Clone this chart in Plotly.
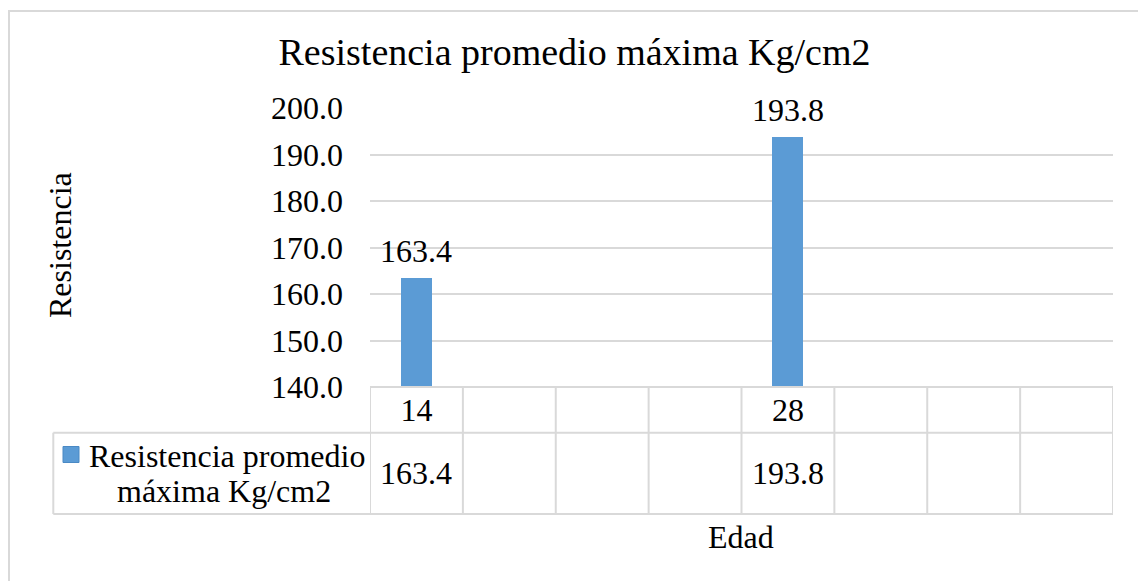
import plotly.graph_objects as go

# ---- data ----
categories = ["14", "", "", "", "28", "", "", ""]
resistencia = [163.4, None, None, None, 193.8, None, None, None]
series_name_lines = ["Resistencia promedio", "máxima Kg/cm2"]
title_text = "Resistencia promedio máxima Kg/cm2"
y_title = "Resistencia"
x_title = "Edad"
y_range = [140, 200]
y_dtick = 10

# ---- layout geometry (pixels) ----
W, H = 1138, 581
L, R, T, B = 370, 25, 108, 194
PW = W - L - R
PH = H - T - B


def px(xp):
    return (xp - L) / PW


def py(yp):
    return (H - B - yp) / PH


FONT = "Liberation Serif"
BLUE = "#5b9bd5"
GRID = "#d9d9d9"
TXT = "#000000"

idx = list(range(len(categories)))

fig = go.Figure()
fig.add_trace(go.Bar(
    x=idx, y=resistencia, width=0.333,
    marker=dict(color=BLUE, line=dict(width=0)),
    showlegend=False, hoverinfo="skip",
))

annotations = []
shapes = []

# data labels above bars
for i, v in zip(idx, resistencia):
    if v is None:
        continue
    annotations.append(dict(
        x=i, y=v, xref="x", yref="y", text=f"{v:.1f}", showarrow=False,
        yanchor="middle", xanchor="center", yshift=27,
        font=dict(family=FONT, size=32, color=TXT),
    ))

# data table geometry
row_top, row_mid, row_bot = 387, 432.7, 514
tbl_left = 53.3
n = len(categories)

# horizontal lines
shapes.append(dict(type="line", xref="x", yref="paper", x0=-0.5, x1=n - 0.5,
                   y0=py(row_top), y1=py(row_top), line=dict(color=GRID, width=2)))
for yy in (row_mid, row_bot):
    shapes.append(dict(type="line", xref="paper", yref="paper", x0=px(tbl_left), x1=1,
                       y0=py(yy), y1=py(yy), line=dict(color=GRID, width=2)))
# vertical lines
for k in range(n + 1):
    xb = k - 0.5
    shapes.append(dict(type="line", xref="x", yref="paper", x0=xb, x1=xb,
                       y0=py(row_top), y1=py(row_bot), line=dict(color=GRID, width=2)))
shapes.append(dict(type="line", xref="paper", yref="paper", x0=px(tbl_left), x1=px(tbl_left),
                   y0=py(row_mid), y1=py(row_bot), line=dict(color=GRID, width=2)))

# table values
for i, v in zip(idx, resistencia):
    if v is None:
        continue
    annotations.append(dict(
        x=i, y=py((row_mid + row_bot) / 2), xref="x", yref="paper", text=f"{v:.1f}",
        showarrow=False, yanchor="middle", xanchor="center",
        font=dict(family=FONT, size=32, color=TXT),
    ))

# legend key in table
shapes.append(dict(type="rect", xref="paper", yref="paper",
                   x0=px(63), x1=px(79), y0=py(446.5), y1=py(462.5),
                   fillcolor=BLUE, line=dict(color="#4a89c4", width=1)))
annotations.append(dict(
    x=px(86.7), y=py(456), xref="paper", yref="paper", text=series_name_lines[0],
    showarrow=False, xanchor="left", yanchor="middle",
    font=dict(family=FONT, size=32, color=TXT),
))
annotations.append(dict(
    x=px(224), y=py(491), xref="paper", yref="paper", text=series_name_lines[1],
    showarrow=False, xanchor="center", yanchor="middle",
    font=dict(family=FONT, size=32, color=TXT),
))

# axis titles
annotations.append(dict(
    x=px(60), y=py(245), xref="paper", yref="paper", text=y_title, textangle=-90,
    showarrow=False, xanchor="center", yanchor="middle",
    font=dict(family=FONT, size=32, color=TXT),
))
annotations.append(dict(
    x=px(741), y=py(537), xref="paper", yref="paper", text=x_title,
    showarrow=False, xanchor="center", yanchor="middle",
    font=dict(family=FONT, size=32, color=TXT),
))

# chart area border
shapes.append(dict(type="rect", xref="paper", yref="paper",
                   x0=px(9), x1=px(W + 20), y0=py(11), y1=py(H + 20),
                   line=dict(color=GRID, width=2), fillcolor="rgba(0,0,0,0)", layer="below"))

fig.update_layout(
    width=W, height=H,
    margin=dict(l=L, r=R, t=T, b=B, pad=0),
    paper_bgcolor="white", plot_bgcolor="white",
    font=dict(family=FONT, size=32, color=TXT),
    title=dict(text=title_text, x=574.5 / W, xanchor="center", xref="container",
               y=1 - 52 / H, yref="container", yanchor="middle",
               font=dict(family=FONT, size=38, color=TXT)),
    xaxis=dict(
        range=[-0.5, n - 0.5], tickmode="array", tickvals=idx, ticktext=categories,
        showgrid=False, zeroline=False, showline=False, ticks="",
        tickfont=dict(family=FONT, size=32, color=TXT), ticklabelstandoff=1,
    ),
    yaxis=dict(
        range=y_range, dtick=y_dtick, tick0=y_range[0], tickformat=".1f",
        showgrid=True, gridcolor=GRID, gridwidth=1.5, zeroline=False, showline=False,
        ticks="", tickfont=dict(family=FONT, size=32, color=TXT), ticklabelstandoff=26,
    ),
    bargap=0, showlegend=False,
    annotations=annotations, shapes=shapes,
)

fig.write_html("out.html")
